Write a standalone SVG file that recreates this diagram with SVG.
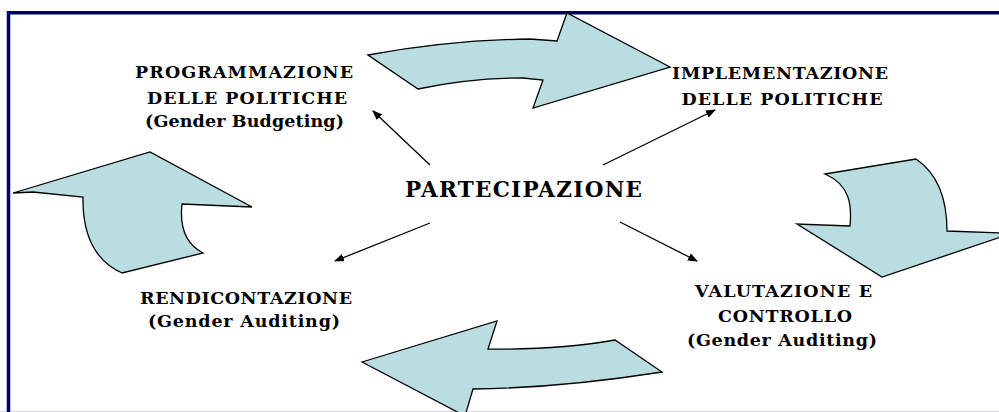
<svg xmlns="http://www.w3.org/2000/svg" width="999" height="412" viewBox="0 0 999 412">
<style>
.shape{fill:#b9dde1;stroke:#000;stroke-width:1.3;stroke-linejoin:miter}
.lbl{font-family:"DejaVu Serif","Liberation Serif",serif;font-weight:bold;font-size:17.5px;fill:#000;text-anchor:middle}
.big{font-size:21.5px}
.conn{stroke:#000;stroke-width:1.3;fill:none;marker-end:url(#ah)}
</style>
<defs>
<marker id="ah" viewBox="0 0 10 8" refX="9" refY="4" markerWidth="10" markerHeight="8" markerUnits="userSpaceOnUse" orient="auto">
<path d="M0,0 L10,4 L0,8 Z" fill="#000"/>
</marker>
</defs>
<rect width="999" height="412" fill="#fff"/>
<line x1="0" y1="411.5" x2="999" y2="411.5" stroke="#d6d6e6" stroke-width="1"/>
<path d="M8.5,412 V12.7 H999" fill="none" stroke="#000066" stroke-width="3.5"/>

<g id="arrow-top"><path class="shape" d="M368,55 Q450,40 530,39 L557,41 L567,13 L670,67 L533,108 L543,80 L523,78 Q470,78 418,89 Z"/></g>
<g id="arrow-right"><path class="shape" d="M825,174 L916,159 Q947,180 947,231 L1002,233 L1004,236 L882,277 L797,224 L850,226 C852,205 850,185 825,174 Z"/></g>
<g id="arrow-bottom"><path class="shape" d="M362,362 L497,321 L488,349 Q560,350 615,340 L662,372 Q560,388 473,389 L465,416 Z"/></g>
<g id="arrow-left"><path class="shape" d="M13,193 L150,152 L252,207 L182,204 Q178,240 203,253 L122,273 Q82,255 83,197 L33,192 Z"/></g>

<g id="connectors">
<line class="conn" x1="430" y1="165" x2="373" y2="111"/>
<line class="conn" x1="603" y1="165" x2="715" y2="110"/>
<line class="conn" x1="430" y1="223" x2="335" y2="261"/>
<line class="conn" x1="620" y1="222" x2="697" y2="261"/>
</g>

<g id="node-programmazione">
<text class="lbl" x="244" y="78" textLength="218" lengthAdjust="spacing">PROGRAMMAZIONE</text>
<text class="lbl" x="247" y="104" textLength="200" lengthAdjust="spacing">DELLE POLITICHE</text>
<text class="lbl" x="244.5" y="127" textLength="199" lengthAdjust="spacing">(Gender Budgeting)</text>
</g>
<g id="node-implementazione">
<text class="lbl" x="780" y="79" textLength="216" lengthAdjust="spacing">IMPLEMENTAZIONE</text>
<text class="lbl" x="782" y="105" textLength="201" lengthAdjust="spacing">DELLE POLITICHE</text>
</g>
<g id="node-partecipazione">
<text class="lbl big" x="523.5" y="197" textLength="237" lengthAdjust="spacing">PARTECIPAZIONE</text>
</g>
<g id="node-rendicontazione">
<text class="lbl" x="246" y="304" textLength="212" lengthAdjust="spacing">RENDICONTAZIONE</text>
<text class="lbl" x="244" y="327" textLength="192" lengthAdjust="spacing">(Gender Auditing)</text>
</g>
<g id="node-valutazione">
<text class="lbl" x="783.5" y="297" textLength="177" lengthAdjust="spacing">VALUTAZIONE E</text>
<text class="lbl" x="785" y="322" textLength="134" lengthAdjust="spacing">CONTROLLO</text>
<text class="lbl" x="782" y="346" textLength="190" lengthAdjust="spacing">(Gender Auditing)</text>
</g>
</svg>
